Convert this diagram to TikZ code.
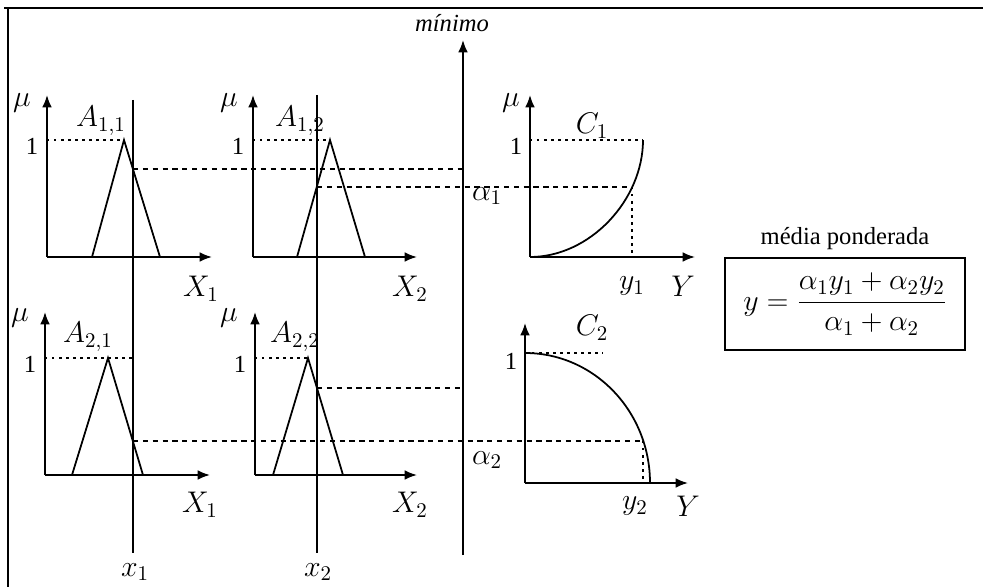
\RequirePackage{fix-cm}
\documentclass[tikz,border=0pt]{standalone}
\usepackage{fontspec}
\setmainfont{Liberation Serif}
\usetikzlibrary{arrows.meta}
\tikzset{
  axis/.style={line width=1pt,-{Latex[length=7pt,width=5.5pt]}},
  memb/.style={line width=1pt},
  cutline/.style={line width=1pt},
  dotline/.style={line width=0.8pt,dash pattern=on 1.4pt off 2.6pt},
  dashline/.style={line width=0.8pt,dash pattern=on 3pt off 2.6pt},
  lbl/.style={inner sep=0pt,font=\fontsize{17}{20}\selectfont},
  onelbl/.style={inner sep=0pt,font=\fontsize{14}{16}\selectfont},
}
\begin{document}
\begin{tikzpicture}[x=0.02cm,y=-0.02cm]
\useasboundingbox (0,0) rectangle (983,587);
% frame
\draw[line width=1.2pt] (4,8) -- (983,8);
\draw[line width=1.2pt] (8,8) -- (8,587);
% origins
\coordinate (o11) at (47,257);
\coordinate (o12) at (253,257);
\coordinate (oc1) at (530,257);
\coordinate (o21) at (45,475);
\coordinate (o22) at (255,475);
\coordinate (oc2) at (525,483);
% axes
\draw[axis] (o11) -- (47,95);
\draw[axis] (o11) -- (212,257);
\draw[axis] (o12) -- (253,95);
\draw[axis] (o12) -- (417,257);
\draw[axis] (oc1) -- (530,95);
\draw[axis] (oc1) -- (695,257);
\draw[axis] (o21) -- (45,312);
\draw[axis] (o21) -- (210,475);
\draw[axis] (o22) -- (255,312);
\draw[axis] (o22) -- (417,475);
\draw[axis] (oc2) -- (525,323);
\draw[axis] (oc2) -- (688,483);
% minimum line
\coordinate (mbot) at (463,555);
\draw[axis] (mbot) -- (463,40);
\node[inner sep=0pt,font=\fontsize{14}{16}\selectfont\itshape] (mmin) at (452,23) {mínimo};
% membership functions
\draw[memb] (92,257) -- (124,140) -- (160,257);
\draw[memb] (297,257) -- (330,140) -- (365,257);
\draw[memb] (72,475) -- (108,358) -- (143,475);
\draw[memb] (273,475) -- (308,358) -- (343,475);
\draw[memb] (oc1) .. controls (590,257) and (643,200) .. (643,140);
\draw[memb] (525,353) arc[start angle=-90,end angle=0,x radius=125,y radius=130];
% inputs
\node[lbl] (x1) at (135,572) {$x_1$};
\node[lbl] (x2) at (318,572) {$x_2$};
\draw[cutline] (133,100) -- (133,553);
\draw[cutline] (317,95) -- (317,553);
% heights 1
\draw[dotline] (47,140) -- (124,140);
\draw[dotline] (253,140) -- (330,140);
\draw[dotline] (530,140) -- (643,140);
\draw[dotline] (45,358) -- (133,358);
\draw[dotline] (255,358) -- (308,358);
\draw[dotline] (525,353) -- (603,353);
% degrees of membership
\draw[dashline] (133,169) -- (463,169);
\draw[dashline] (317,187) -- (632,187);
\draw[dotline] (632,187) -- (632,257);
\draw[dashline] (317,388) -- (463,388);
\draw[dashline] (133,441) -- (643,441);
\draw[dotline] (643,441) -- (643,483);
% labels
\node[lbl] (mu11) at (22,103) {$\mu$};
\node[lbl] (mu12) at (229,103) {$\mu$};
\node[lbl] (muc1) at (511,103) {$\mu$};
\node[lbl] (mu21) at (20,318) {$\mu$};
\node[lbl] (mu22) at (229,318) {$\mu$};
\node[onelbl] (one11) at (32,146) {1};
\node[onelbl] (one12) at (238,146) {1};
\node[onelbl] (onec1) at (516,146) {1};
\node[onelbl] (one21) at (30,364) {1};
\node[onelbl] (one22) at (240,364) {1};
\node[onelbl] (onec2) at (511,361) {1};
\node[lbl] (a11) at (101,121) {$A_{1,1}$};
\node[lbl] (a12) at (300,121) {$A_{1,2}$};
\node[lbl] (a21) at (88,337) {$A_{2,1}$};
\node[lbl] (a22) at (295,337) {$A_{2,2}$};
\node[lbl] (c1) at (592,126) {$C_1$};
\node[lbl] (c2) at (592,328) {$C_2$};
\node[lbl] (X11) at (201,289) {$X_1$};
\node[lbl] (X12) at (410,289) {$X_2$};
\node[lbl] (X21) at (200,505) {$X_1$};
\node[lbl] (X22) at (410,505) {$X_2$};
\node[lbl] (y1) at (632,286) {$y_1$};
\node[lbl] (Y1) at (683,286) {$Y$};
\node[lbl] (y2) at (635,506) {$y_2$};
\node[lbl] (Y2) at (688,506) {$Y$};
\node[lbl] (al1) at (487,196) {$\alpha_1$};
\node[lbl] (al2) at (487,460) {$\alpha_2$};
% weighted average
\node[inner sep=0pt,font=\fontsize{14}{16}\selectfont] (mp) at (845,239) {média ponderada};
\node[draw,line width=1pt,minimum width=4.8cm,minimum height=1.84cm,inner sep=2pt,font=\fontsize{17}{19}\selectfont] (fm) at (845,304)
  {$y=\displaystyle\frac{\alpha_1 y_1+\alpha_2 y_2}{\alpha_1+\alpha_2}$};
\end{tikzpicture}
\end{document}
